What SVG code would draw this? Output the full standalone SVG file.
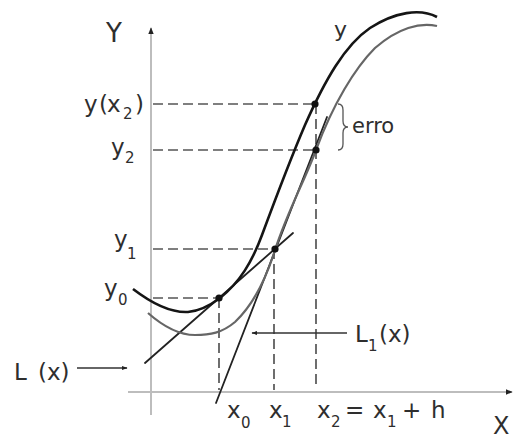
<svg xmlns="http://www.w3.org/2000/svg" width="514" height="441" viewBox="0 0 514 441">
<defs>
<style>
.t{font-family:"DejaVu Sans","Liberation Sans",Arial,sans-serif;font-size:23px;fill:#2e2e2e}
.s{font-size:15px}
.ax{stroke:#bdbdbd;stroke-width:2;fill:none}
.dash{stroke:#555;stroke-width:1.7;stroke-dasharray:10 5;fill:none}
.tan{stroke:#222;stroke-width:1.8;fill:none;stroke-linecap:round}
.ptr{stroke:#333;stroke-width:1.3;fill:none}
.pt{fill:#111}
</style>
<marker id="ah" viewBox="0 0 10 10" refX="9" refY="5" markerWidth="7" markerHeight="7" markerUnits="userSpaceOnUse" orient="auto">
<path d="M0,1 L10,5 L0,9 Z" fill="#222"/>
</marker>
<marker id="ah2" viewBox="0 0 10 10" refX="9" refY="5" markerWidth="6" markerHeight="6" markerUnits="userSpaceOnUse" orient="auto">
<path d="M0,1.5 L10,5 L0,8.5 Z" fill="#222"/>
</marker>
</defs>
<rect width="514" height="441" fill="#fff"/>

<g id="axes">
<line class="ax" x1="151" y1="415" x2="151" y2="28" marker-end="url(#ah)"/>
<line class="ax" x1="128" y1="392" x2="512" y2="392" marker-end="url(#ah)"/>
<text class="t" x="106" y="42" style="font-size:26px">Y</text>
<text class="t" x="493" y="434" style="font-size:24px">X</text>
</g>

<g id="connectors">
<path class="dash" d="M153,104 H315 M153,150 H316 M153,249 H274 M153,298 H219 M219,298 V390 M274,249 V390 M316,104 V388"/>
<line class="tan" x1="145" y1="363" x2="293" y2="233"/>
<line class="tan" x1="216" y1="403" x2="327" y2="117"/>
<path d="M148,313 C165,328 180,335 195,335 C210,335 222,333 235,322 C252,306 265,282 275,250 C288,210 305,180 316,150 C333,104 355,68 375,48 C398,28 420,22 437,26" fill="none" stroke="#666" stroke-width="2.2"/>
<path d="M133,289 C150,302 170,313 188,312 C200,311 212,304 220,298 C240,282 252,262 262,235 C275,200 290,160 305,125 C325,80 345,45 370,28 C395,12 420,8 437,17" fill="none" stroke="#151515" stroke-width="2.6"/>
<line class="ptr" x1="77" y1="368" x2="127" y2="368" marker-end="url(#ah2)"/>
<line class="ptr" x1="347" y1="333" x2="252" y2="333" marker-end="url(#ah2)"/>
<path d="M338,104 Q343,104 343,110 L343,121 Q343,127 348,127 Q343,127 343,133 L343,144 Q343,150 338,150" fill="none" stroke="#555" stroke-width="1.3"/>
</g>

<g id="points">
<circle class="pt" cx="219" cy="298" r="3.6"/>
<circle class="pt" cx="275" cy="249" r="3.6"/>
<circle class="pt" cx="315" cy="104" r="3.6"/>
<circle class="pt" cx="316" cy="150" r="3.6"/>
</g>

<g id="label-yx2"><text class="t" x="84" y="112">y<tspan x="99">(</tspan><tspan x="107">x</tspan><tspan x="123" dy="7" class="s">2</tspan><tspan x="135" dy="-7">)</tspan></text></g>
<g id="label-y2"><text class="t" x="111" y="155">y<tspan x="125" dy="8" class="s">2</tspan></text></g>
<g id="label-y1"><text class="t" x="114" y="247">y<tspan x="127" dy="12" class="s">1</tspan></text></g>
<g id="label-y0"><text class="t" x="104" y="296">y<tspan x="118" dy="9" class="s">0</tspan></text></g>
<g id="label-L"><text class="t" x="14" y="380">L<tspan x="38">(x)</tspan></text></g>
<g id="label-L1"><text class="t" x="355" y="342">L<tspan x="368" dy="9" class="s">1</tspan><tspan x="379" dy="-9">(x)</tspan></text></g>
<g id="label-x0"><text class="t" x="227" y="418">x<tspan x="241" dy="10" class="s">0</tspan></text></g>
<g id="label-x1"><text class="t" x="269" y="418">x<tspan x="282" dy="9" class="s">1</tspan></text></g>
<g id="label-x2"><text class="t" x="317" y="418">x<tspan x="331" dy="9" class="s">2</tspan><tspan x="345" dy="-9">=</tspan><tspan x="373">x</tspan><tspan x="387" dy="9" class="s">1</tspan><tspan x="402" dy="-9">+</tspan><tspan x="431">h</tspan></text></g>
<g id="label-erro"><text class="t" x="352" y="133" style="font-size:21px">erro</text></g>
<g id="label-y"><text class="t" x="334" y="37" style="font-size:22px">y</text></g>
</svg>
